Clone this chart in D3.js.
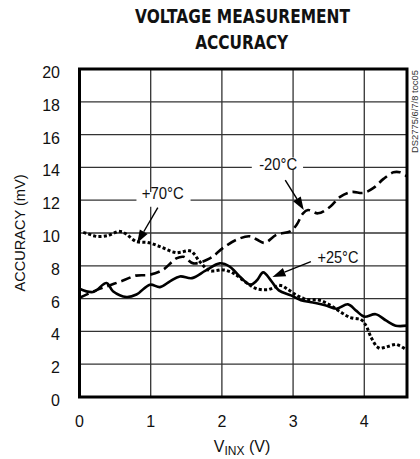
<!DOCTYPE html>
<html><head><meta charset="utf-8">
<script src="https://cdn.jsdelivr.net/npm/d3@7"></script>
<style>
html,body{margin:0;padding:0;background:#fff;}
svg{display:block;}
text{font-family:"Liberation Sans Narrow","Liberation Sans",Arial,sans-serif;fill:#111;}
</style></head><body>
<svg id="c" width="420" height="459"></svg>
<script>
// ---- data ----
const xTicks = [0, 1, 2, 3, 4];
const yTicks = [0, 2, 4, 6, 8, 10, 12, 14, 16, 18, 20];

// -20°C (dashed)
const vM20 = [0, 0.23, 0.42, 0.61, 0.79, 0.98, 1.17, 1.36, 1.46, 1.6, 1.83, 2.02, 2.21, 2.39, 2.49, 2.6, 2.77, 2.96, 3.05, 3.14, 3.21, 3.35, 3.52, 3.66, 3.82, 3.99, 4.13, 4.27, 4.41, 4.5, 4.6];
const aM20 = [6.05, 6.5, 6.8, 7.1, 7.4, 7.45, 7.75, 8.45, 8.55, 8.15, 8.45, 9.1, 9.6, 9.8, 9.6, 9.4, 9.9, 10.1, 10.5, 11.2, 11.4, 11.2, 11.6, 12.2, 12.5, 12.45, 12.75, 13.3, 13.7, 13.7, 13.45];

// +25°C (solid)
const vP25 = [0, 0.19, 0.38, 0.47, 0.66, 0.8, 0.99, 1.13, 1.27, 1.41, 1.58, 1.77, 1.97, 2.11, 2.25, 2.4, 2.49, 2.58, 2.69, 2.8, 2.97, 3.11, 3.28, 3.45, 3.61, 3.77, 3.89, 4.0, 4.16, 4.31, 4.44, 4.6];
const aP25 = [6.6, 6.4, 6.95, 6.45, 6.1, 6.25, 6.85, 6.7, 7.05, 7.35, 7.25, 7.7, 8.15, 7.95, 7.35, 6.85, 7.1, 7.6, 7.1, 6.5, 6.2, 5.9, 5.76, 5.6, 5.38, 5.65, 5.25, 4.9, 5.05, 4.65, 4.35, 4.35];

// +70°C (dotted)
const vP70 = [0, 0.12, 0.23, 0.4, 0.56, 0.65, 0.79, 0.98, 1.17, 1.36, 1.56, 1.69, 1.83, 2.02, 2.16, 2.35, 2.49, 2.65, 2.82, 2.93, 3.05, 3.19, 3.37, 3.52, 3.66, 3.8, 3.96, 4.03, 4.1, 4.2, 4.31, 4.45, 4.6];
const aP70 = [10.1, 9.95, 9.8, 9.85, 10.1, 9.95, 9.5, 9.4, 9.1, 8.8, 8.9, 8.25, 7.7, 7.75, 7.55, 6.95, 6.6, 6.55, 6.8, 6.55, 6.2, 5.95, 5.9, 5.6, 5.2, 4.85, 4.7, 4.3, 3.6, 3.0, 3.05, 3.2, 2.85];

const seriesNames = ["-20°C", "+25°C", "+70°C"];
const titleLines = ["VOLTAGE MEASUREMENT", "ACCURACY"];

// ---- layout ----
const svg = d3.select("#c");
const x = d3.scaleLinear().domain([0, 4.6]).range([79.5, 407]);
const y = d3.scaleLinear().domain([0, 20]).range([397, 69]);

// title
svg.append("text").attr("x", 242.5).attr("y", 23).attr("text-anchor", "middle")
  .attr("textLength", 215).attr("lengthAdjust", "spacingAndGlyphs")
  .style("font-family", "'DejaVu Sans','Liberation Sans',Arial,sans-serif").style("font-weight", "bold").style("font-size", "20px")
  .text(titleLines[0]);
svg.append("text").attr("x", 241.7).attr("y", 49).attr("text-anchor", "middle")
  .attr("textLength", 93).attr("lengthAdjust", "spacingAndGlyphs")
  .style("font-family", "'DejaVu Sans','Liberation Sans',Arial,sans-serif").style("font-weight", "bold").style("font-size", "20px")
  .text(titleLines[1]);

// grid
const g = svg.append("g");
g.selectAll(".gx").data(xTicks.filter(d => d > 0)).join("line")
  .attr("x1", d => x(d)).attr("x2", d => x(d)).attr("y1", y(20)).attr("y2", y(0))
  .attr("stroke", "#333").attr("stroke-width", 1.3);
g.selectAll(".gy").data(yTicks.filter(d => d > 0 && d < 20)).join("line")
  .attr("x1", x(0)).attr("x2", x(4.6)).attr("y1", d => y(d)).attr("y2", d => y(d))
  .attr("stroke", "#333").attr("stroke-width", 1.3);

// tick labels
svg.selectAll(".xl").data(xTicks).join("text")
  .attr("x", d => x(d)).attr("y", 427).attr("text-anchor", "middle")
  .style("font-size", "16px").text(d => d);
svg.selectAll(".yl").data(yTicks).join("text")
  .attr("x", 60).attr("y", d => y(d) + 9).attr("text-anchor", "end")
  .style("font-size", "16px").text(d => d);

// axis titles
const xt = svg.append("text").attr("x", 242).attr("y", 452).attr("text-anchor", "middle").style("font-size", "16px");
xt.append("tspan").text("V");
xt.append("tspan").attr("dy", 3).style("font-size", "12px").text("INX");
xt.append("tspan").attr("dy", -3).text(" (V)");

svg.append("text").attr("transform", "translate(25," + y(10) + ") rotate(-90)")
  .attr("text-anchor", "middle").attr("textLength", 117).attr("lengthAdjust", "spacingAndGlyphs")
  .style("font-size", "15px").text("ACCURACY (mV)");

// watermark
svg.append("text").attr("transform", "translate(418,153) rotate(-90)")
  .attr("textLength", 83).attr("lengthAdjust", "spacingAndGlyphs")
  .style("font-size", "9px").style("fill", "#333").text("DS2775/6/7/8 toc05");

// annotation backgrounds (white gaps in grid)
svg.append("rect").attr("x", x(0.8)).attr("y", y(12.5)).attr("width", x(1.56) - x(0.8)).attr("height", y(11.6) - y(12.5)).attr("fill", "#fff");
svg.append("rect").attr("x", x(2.42)).attr("y", y(14.6)).attr("width", x(3.14) - x(2.42)).attr("height", y(13.9) - y(14.6)).attr("fill", "#fff");

// curves
const line = (vs, as) => d3.line().x(i => x(vs[i])).y(i => y(as[i])).curve(d3.curveCatmullRom.alpha(0.5))(d3.range(vs.length));
const clip = svg.append("clipPath").attr("id", "pc").append("rect")
  .attr("x", x(0)).attr("y", y(20)).attr("width", x(4.6) - x(0)).attr("height", y(0) - y(20));
const cg = svg.append("g").attr("clip-path", "url(#pc)");
cg.append("path").attr("d", line(vP70, aP70)).attr("fill", "none").attr("stroke", "#000")
  .attr("stroke-width", 3).attr("stroke-dasharray", "0.1,5.2").attr("stroke-linecap", "square");
cg.append("path").attr("d", line(vM20, aM20)).attr("fill", "none").attr("stroke", "#000")
  .attr("stroke-width", 2.6).attr("stroke-dasharray", "10,5");
cg.append("path").attr("d", line(vP25, aP25)).attr("fill", "none").attr("stroke", "#000")
  .attr("stroke-width", 2.6);

// frame
svg.append("rect").attr("x", x(0)).attr("y", y(20)).attr("width", x(4.6) - x(0)).attr("height", y(0) - y(20))
  .attr("fill", "none").attr("stroke", "#000").attr("stroke-width", 3);

// annotations: label text, arrow from, arrow tip (data units)
const annLabels = ["+70°C", "-20°C", "+25°C"];
const annText = [[1.17, 12.07], [2.79, 13.83], [3.63, 8.2]];
const annFrom = [[1.10, 11.55], [2.89, 13.23], [3.25, 8.25]];
const annTip = [[0.81, 9.39], [3.15, 11.4], [2.71, 7.32]];
const annWidth = [42, 38, 41];

annLabels.forEach((lab, i) => {
  svg.append("text").attr("x", x(annText[i][0])).attr("y", y(annText[i][1])).attr("text-anchor", "middle")
    .attr("textLength", annWidth[i]).attr("lengthAdjust", "spacingAndGlyphs")
    .style("font-size", "17px").text(lab);
  const x1 = x(annFrom[i][0]), y1 = y(annFrom[i][1]), x2 = x(annTip[i][0]), y2 = y(annTip[i][1]);
  const ang = Math.atan2(y2 - y1, x2 - x1);
  const L = 13, W = 4.5;
  const bx = x2 - L * Math.cos(ang), by = y2 - L * Math.sin(ang);
  svg.append("line").attr("x1", x1).attr("y1", y1).attr("x2", bx).attr("y2", by)
    .attr("stroke", "#000").attr("stroke-width", 1.4);
  const px = -Math.sin(ang), py = Math.cos(ang);
  svg.append("path").attr("d", `M${x2},${y2}L${bx + W * px},${by + W * py}L${bx - W * px},${by - W * py}Z`).attr("fill", "#000");
});
</script>
</body></html>
